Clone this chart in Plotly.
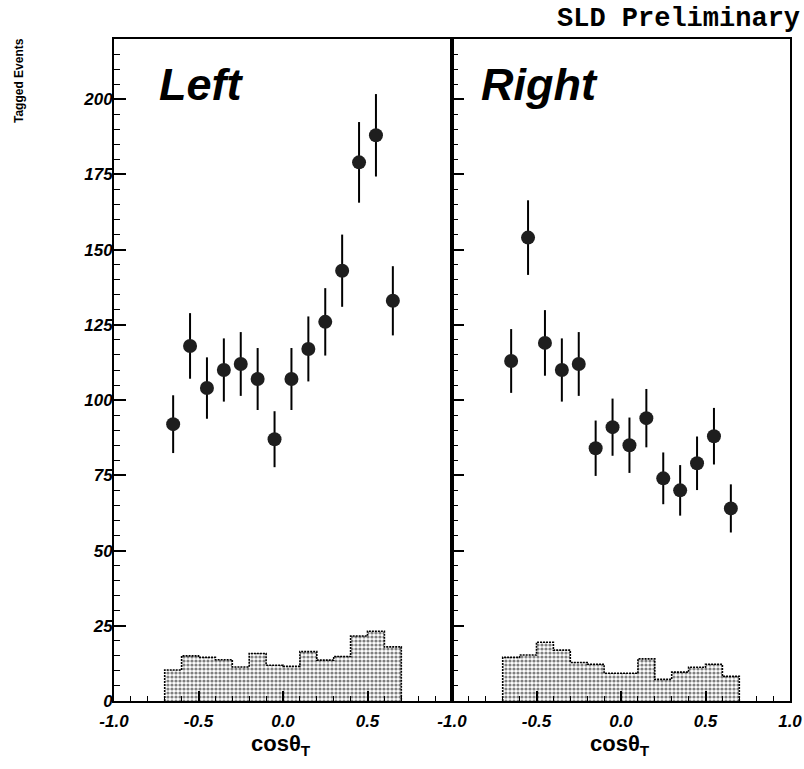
import plotly.graph_objects as go

# ---- data ----
bin_centers = [-0.65, -0.55, -0.45, -0.35, -0.25, -0.15, -0.05,
               0.05, 0.15, 0.25, 0.35, 0.45, 0.55, 0.65]
bin_width = 0.1

left_counts = [92, 118, 104, 110, 112, 107, 87, 107, 117, 126, 143, 179, 188, 133]
left_errors = [9.6, 10.9, 10.2, 10.5, 10.6, 10.3, 9.3, 10.3, 10.8, 11.2, 12.0, 13.4, 13.7, 11.5]
left_bkg = [10.3, 15.0, 14.5, 13.7, 11.3, 15.8, 11.9, 11.5, 16.4, 13.6, 14.8, 21.6, 23.2, 18.0]

right_counts = [113, 154, 119, 110, 112, 84, 91, 85, 94, 74, 70, 79, 88, 64]
right_errors = [10.6, 12.4, 10.9, 10.5, 10.6, 9.2, 9.5, 9.2, 9.7, 8.6, 8.4, 8.9, 9.4, 8.0]
right_bkg = [14.5, 15.3, 19.5, 16.9, 12.8, 12.2, 9.2, 9.2, 14.0, 7.2, 9.6, 11.2, 12.2, 8.2]

y_ticks = [0, 25, 50, 75, 100, 125, 150, 175, 200]
x_ticks = [-1.0, -0.5, 0.0, 0.5, 1.0]
x_ticktext_left = ["-1.0", "-0.5", "0.0", "0.5", " "]
x_ticktext_right = ["-1.0", "-0.5", "0.0", "0.5", "1.0"]

panel_labels = ["Left", "Right"]
y_title = "Tagged Events"
x_title = "cosθ<sub>T</sub>"
header = "SLD Preliminary"

# ---- figure ----
W, H = 804, 769
fig = go.Figure()

tick_font = dict(family="Liberation Sans, Arial, sans-serif", size=17,
                 color="black", weight="bold", style="italic")


def step_outline(centers, vals, w):
    xs = [centers[0] - w / 2]
    ys = [0]
    for c, v in zip(centers, vals):
        xs.append(c - w / 2)
        ys.append(v)
    xs.append(centers[-1] + w / 2)
    ys.append(0)
    return xs, ys


panels = [("x", "y", left_counts, left_errors, left_bkg),
          ("x2", "y2", right_counts, right_errors, right_bkg)]

for xa, ya, counts, errs, bkg in panels:
    fig.add_trace(go.Bar(
        x=bin_centers, y=bkg, width=bin_width, xaxis=xa, yaxis=ya,
        marker=dict(color="white", line=dict(width=0),
                    pattern=dict(shape=".", fgcolor="black", bgcolor="white",
                                 size=4, solidity=0.5)),
        showlegend=False, hoverinfo="skip"))
    sx, sy = step_outline(bin_centers, bkg, bin_width)
    fig.add_trace(go.Scatter(
        x=sx, y=sy, xaxis=xa, yaxis=ya, mode="lines",
        line=dict(color="black", width=1.6, shape="hv", dash="2px,1px"),
        showlegend=False, hoverinfo="skip"))
    fig.add_trace(go.Scatter(
        x=bin_centers, y=counts, xaxis=xa, yaxis=ya, mode="markers",
        marker=dict(symbol="circle", size=14, color="#1e1e1e",
                    line=dict(width=0)),
        error_y=dict(type="data", array=errs, visible=True,
                     thickness=2, width=0, color="black"),
        showlegend=False))

x0, xm, x1 = 114 / W, 452 / W, 790 / W
y0, y1 = 1 - 701 / H, 1 - 39 / H

common_x = dict(range=[-1, 1], showgrid=False, zeroline=False, automargin=False,
                showline=True, linewidth=2, linecolor="black", mirror=True,
                ticks="inside", ticklen=10, tickwidth=1.5, tickcolor="black",
                tickvals=x_ticks, tickfont=tick_font, ticklabelstandoff=4,
                minor=dict(dtick=0.1, ticks="inside", ticklen=5,
                           tickwidth=1, tickcolor="black"))
common_y = dict(range=[0, 220], showgrid=False, zeroline=False, automargin=False,
                showline=True, linewidth=2, linecolor="black", mirror=True,
                ticks="inside", ticklen=12, tickwidth=1.5, tickcolor="black",
                tickvals=y_ticks, tickfont=tick_font,
                minor=dict(dtick=5, ticks="inside", ticklen=6,
                           tickwidth=1, tickcolor="black"))

fig.update_layout(
    width=W, height=H, margin=dict(l=0, r=0, t=0, b=0, autoexpand=False),
    paper_bgcolor="white", plot_bgcolor="white", bargap=0,
    xaxis=dict(common_x, domain=[x0, xm], anchor="y",
               ticktext=x_ticktext_left),
    yaxis=dict(common_y, domain=[y0, y1], anchor="x", ticklabelstandoff=-4),
    xaxis2=dict(common_x, domain=[xm, x1], anchor="y2",
                ticktext=x_ticktext_right),
    yaxis2=dict(common_y, domain=[y0, y1], anchor="x2", showticklabels=False),
)

big = dict(family="Liberation Sans, Arial, sans-serif", size=45,
           color="black", weight="bold", style="italic")
ann = [
    dict(text=panel_labels[0], x=157 / W, y=1 - 84 / H, xanchor="left",
         yanchor="middle", font=big),
    dict(text=panel_labels[1], x=479 / W, y=1 - 84 / H, xanchor="left",
         yanchor="middle", font=big),
    dict(text=header, x=802 / W, y=1 - 19 / H, xanchor="right",
         yanchor="middle",
         font=dict(family="Liberation Mono, Courier New, monospace", size=27,
                   color="black", weight="bold")),
    dict(text=y_title, x=19 / W, y=1 - 81 / H, xanchor="center",
         yanchor="middle", textangle=-90,
         font=dict(family="Liberation Sans, Arial, sans-serif",
                   size=12, color="black", weight="bold")),
    dict(text=x_title, x=281 / W, y=1 - 745 / H, xanchor="center",
         yanchor="middle",
         font=dict(family="Liberation Sans, Arial, sans-serif", size=22,
                   color="black", weight="bold")),
    dict(text=x_title, x=620 / W, y=1 - 745 / H, xanchor="center",
         yanchor="middle",
         font=dict(family="Liberation Sans, Arial, sans-serif", size=22,
                   color="black", weight="bold")),
]
for a in ann:
    a.update(xref="paper", yref="paper", showarrow=False)
fig.update_layout(annotations=ann)

fig.write_html("out.html")
